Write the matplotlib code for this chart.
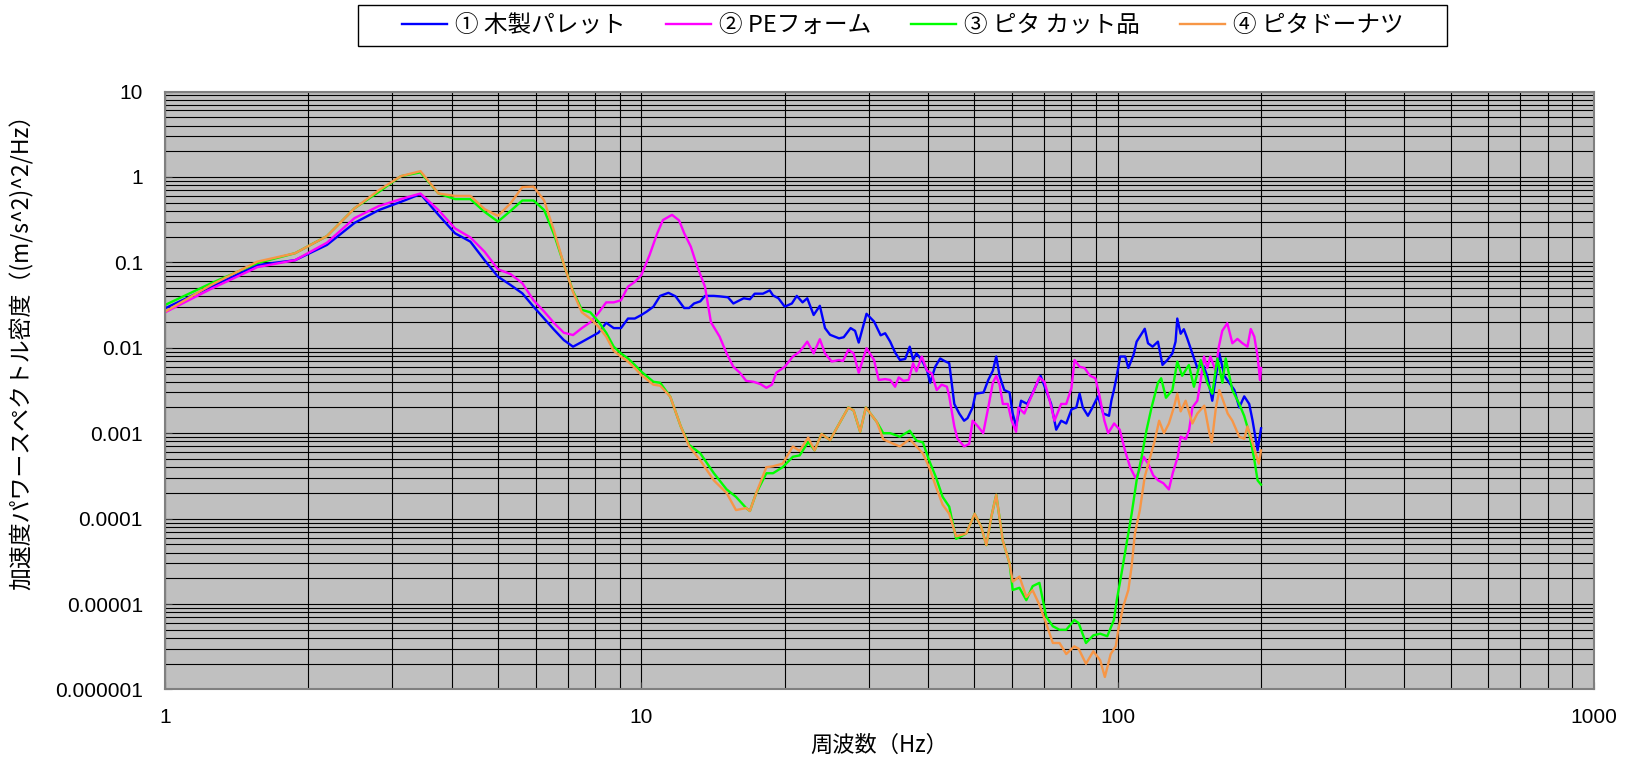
import numpy as np
import matplotlib
matplotlib.use('Agg')
import matplotlib.pyplot as plt
from matplotlib.patches import Rectangle
from matplotlib.ticker import FixedLocator, FixedFormatter, LogLocator, NullFormatter

plt.rcParams['font.family'] = ['Noto Sans CJK JP', 'DejaVu Sans']

# ---- PSD data: frequency (Hz) / acceleration PSD ((m/s^2)^2/Hz) ----
low_freq = [1.0, 1.25, 1.5625, 1.875, 2.1875, 2.5, 2.8125, 3.125, 3.4375, 3.75,
            4.0625, 4.375, 4.6875, 5.0, 5.3125, 5.625, 5.9375, 6.25, 6.5625, 6.875,
            7.1875, 7.5, 7.8125, 8.125, 8.4375, 8.75, 9.0625, 9.375, 9.6875, 10.0]

wood_freq = low_freq + [
    10.27, 10.6, 10.95, 11.4, 11.8, 12.3, 12.6, 12.9, 13.3, 13.6, 14.2, 14.6, 15.2,
    15.6, 16.4, 16.9, 17.3, 18.0, 18.6, 18.9, 19.4, 20.0, 20.7, 21.2, 21.8, 22.3,
    23.0, 23.7, 24.3, 24.9, 26.0, 26.6, 27.5, 28.1, 28.6, 29.7, 30.8, 31.8, 32.5,
    33.3, 34.1, 34.9, 35.8, 36.6, 37.2, 37.8, 38.8, 39.8, 40.4, 41.4, 42.4, 43.3,
    44.3, 45.4, 46.5, 47.6, 48.4, 49.6, 50.3, 52.3, 53.5, 54.7, 55.6, 56.5, 57.8,
    59.3, 60.2, 61.2, 62.7, 64.6, 66.2, 67.8, 68.9, 70.7, 72.5, 74.3, 76.1, 78.0,
    80.0, 81.9, 83.2, 84.5, 86.6, 88.1, 90.9, 93.3, 95.9, 97.0, 98.2, 99.6, 101.2,
    103.7, 105.3, 108.0, 109.6, 112.3, 114.0, 115.8, 118.4, 121.5, 124.2, 127.2,
    130.3, 132.3, 133.4, 135.6, 137.7, 139.9, 143.5, 147.0, 150.6, 154.2, 158.0,
    163.5, 167.5, 171.5, 175.8, 180.0, 184.4, 188.9, 192.0, 196.7, 200.0]
wood_psd = [
    0.029, 0.052, 0.093, 0.106, 0.16, 0.29, 0.41, 0.51, 0.63, 0.36,
    0.219, 0.175, 0.106, 0.068, 0.0544, 0.0434, 0.0303, 0.022, 0.0162, 0.0123,
    0.0103, 0.0117, 0.0133, 0.015, 0.0196, 0.017, 0.017, 0.022, 0.022, 0.0242,
    0.0266, 0.0303, 0.0405, 0.044, 0.040, 0.0292, 0.0292, 0.033, 0.035, 0.0405,
    0.0405, 0.040, 0.039, 0.033, 0.038, 0.037, 0.043, 0.043, 0.047, 0.041, 0.038,
    0.0303, 0.033, 0.0405, 0.034, 0.038, 0.0242, 0.031, 0.017, 0.0142, 0.0129,
    0.0133, 0.017, 0.0158, 0.0115, 0.025, 0.0203, 0.014, 0.0148, 0.0118, 0.0088,
    0.0072, 0.0074, 0.0103, 0.0072, 0.0086, 0.0072, 0.0054, 0.0039, 0.006, 0.0075,
    0.007, 0.0066, 0.0022, 0.0017, 0.0014, 0.0015, 0.002, 0.0029, 0.003, 0.0042,
    0.0054, 0.0079, 0.0047, 0.0032, 0.003, 0.0017, 0.00122, 0.0024, 0.0022, 0.0029,
    0.0039, 0.0047, 0.0032, 0.0022, 0.0011, 0.0014, 0.0013, 0.0019, 0.002, 0.0029,
    0.002, 0.0016, 0.0019, 0.0027, 0.0017, 0.0016, 0.0024, 0.0032, 0.0047, 0.0079,
    0.0079, 0.0058, 0.0083, 0.0118, 0.0146, 0.0167, 0.0113, 0.0103, 0.0118, 0.0063,
    0.0072, 0.0086, 0.0118, 0.022, 0.0146, 0.0165, 0.013, 0.0086, 0.0058, 0.0066,
    0.0047, 0.0024, 0.0086, 0.0047, 0.0039, 0.0032, 0.002, 0.0027, 0.0022, 0.0014,
    0.00063, 0.00114]

pe_freq = low_freq + [
    10.4, 10.8, 11.1, 11.6, 12.0, 12.3, 12.7, 13.1, 13.6, 14.0, 14.6, 15.1, 15.6,
    16.1, 16.6, 17.2, 17.8, 18.3, 18.8, 19.2, 20.0, 20.8, 21.5, 22.3, 23.0, 23.7,
    24.3, 25.1, 26.0, 26.5, 27.2, 27.9, 28.6, 29.7, 30.8, 31.5, 32.5, 33.3, 34.1,
    34.7, 35.5, 36.4, 37.2, 37.8, 38.8, 39.8, 40.7, 41.7, 42.7, 43.8, 44.3, 45.4,
    46.1, 47.6, 48.8, 49.6, 50.9, 52.2, 53.5, 54.7, 55.6, 56.5, 57.4, 58.8, 59.9,
    61.2, 61.9, 63.7, 65.3, 66.8, 68.4, 70.2, 72.0, 73.7, 76.1, 78.0, 80.0, 81.2,
    83.2, 85.2, 87.5, 89.8, 91.4, 93.8, 95.5, 98.3, 101.0, 103.6, 106.2, 109.0,
    110.7, 113.4, 116.1, 118.8, 121.7, 124.7, 128.1, 130.5, 133.7, 135.6, 139.0,
    141.3, 143.5, 147.0, 149.4, 151.8, 154.2, 156.6, 160.5, 163.1, 165.8, 169.9,
    174.1, 178.4, 182.8, 187.3, 190.3, 193.6, 196.7, 199.0, 200.0]
pe_psd = [
    0.026, 0.049, 0.088, 0.106, 0.17, 0.33, 0.457, 0.55, 0.64, 0.41,
    0.25, 0.196, 0.133, 0.083, 0.073, 0.057, 0.036, 0.0266, 0.0194, 0.015,
    0.0141, 0.017, 0.0199, 0.0255, 0.034, 0.034, 0.036, 0.052, 0.059, 0.071,
    0.121, 0.219, 0.313, 0.36, 0.31, 0.22, 0.153, 0.0895, 0.052, 0.0199, 0.0135,
    0.0086, 0.006, 0.0051, 0.0041, 0.004, 0.00375, 0.0034, 0.0037, 0.0051, 0.006,
    0.0079, 0.009, 0.0118, 0.0086, 0.0126, 0.0086, 0.0069, 0.0072, 0.007, 0.0095,
    0.0086, 0.0051, 0.0099, 0.0072, 0.0042, 0.0043, 0.0042, 0.0035, 0.0045, 0.0041,
    0.0042, 0.0066, 0.0053, 0.0079, 0.0054, 0.005, 0.0032, 0.0037, 0.0035, 0.0027,
    0.0012, 0.00086, 0.0007, 0.00075, 0.0014, 0.0012, 0.001, 0.002, 0.0039, 0.0047,
    0.0037, 0.0022, 0.0022, 0.0014, 0.00104, 0.002, 0.0017, 0.0024, 0.0032, 0.0045,
    0.004, 0.0024, 0.0014, 0.0022, 0.0022, 0.0034, 0.0072, 0.006, 0.0058, 0.0047,
    0.0044, 0.0029, 0.0014, 0.001, 0.0013, 0.0011, 0.00063, 0.0004, 0.0003, 0.00035,
    0.00053, 0.00043, 0.00032, 0.00028, 0.00026, 0.00022, 0.00034, 0.00053, 0.00091,
    0.00085, 0.0011, 0.002, 0.0024, 0.0042, 0.0079, 0.0058, 0.0079, 0.0054, 0.0103,
    0.0158, 0.0194, 0.0113, 0.0127, 0.0113, 0.0103, 0.0166, 0.0135, 0.0079, 0.0042,
    0.0058]

cut_freq = low_freq + [
    10.6, 10.95, 11.5, 12.1, 12.6, 13.3, 14.2, 15.1, 15.8, 16.6, 16.9, 17.4, 18.3,
    18.9, 19.8, 20.8, 21.5, 22.4, 23.1, 23.9, 24.9, 25.7, 27.2, 27.9, 28.8, 29.6,
    31.2, 32.2, 33.3, 34.9, 36.6, 37.8, 39.0, 40.2, 41.5, 42.9, 44.3, 45.8, 48.1,
    50.1, 51.7, 53.0, 54.3, 55.6, 57.4, 59.3, 60.2, 62.2, 64.3, 66.3, 68.5, 70.8,
    73.1, 75.5, 78.0, 81.1, 82.8, 85.8, 88.9, 91.9, 95.1, 98.2, 99.6, 101.9, 104.4,
    107.0, 109.6, 112.3, 115.0, 117.8, 121.5, 123.4, 126.3, 130.3, 133.4, 136.6,
    141.1, 144.6, 149.4, 154.2, 158.0, 161.9, 165.9, 168.6, 174.1, 180.0, 184.4,
    188.9, 193.6, 196.7, 200.0]
cut_psd = [
    0.0317, 0.057, 0.098, 0.128, 0.203, 0.43, 0.67, 1.02, 1.13, 0.64,
    0.55, 0.55, 0.39, 0.30, 0.40, 0.53, 0.53, 0.41, 0.21, 0.095,
    0.046, 0.0278, 0.026, 0.0203, 0.015, 0.0103, 0.0086, 0.0075, 0.0063, 0.00525,
    0.004, 0.0039, 0.00268, 0.0012, 0.00073, 0.00058, 0.00034, 0.00022, 0.00018,
    0.000133, 0.000123, 0.000195, 0.00034, 0.00034, 0.0004, 0.00053, 0.00055,
    0.00079, 0.00063, 0.00098, 0.00083, 0.00114, 0.002, 0.00185, 0.00104, 0.002,
    0.00136, 0.001, 0.001, 0.00091, 0.00107, 0.00082, 0.00078, 0.00048, 0.00031,
    0.00018, 0.000138, 0.000058, 0.000067, 0.000114, 0.00008, 0.000049, 0.000105,
    0.00019, 0.000055, 0.00003, 0.0000146, 0.0000155, 0.0000111, 0.0000162,
    0.0000177, 0.0000071, 0.0000055, 0.000005, 0.000005, 0.0000065, 0.000006,
    0.0000035, 0.0000043, 0.0000045, 0.0000042, 0.0000065, 0.0000112, 0.0000229,
    0.000051, 0.000114, 0.00028, 0.00053, 0.00109, 0.002, 0.0039, 0.0044, 0.0026,
    0.0032, 0.0069, 0.0047, 0.0063, 0.0035, 0.0072, 0.0039, 0.0029, 0.0075, 0.0039,
    0.0075, 0.0032, 0.0022, 0.00159, 0.001, 0.00049, 0.00028, 0.00025]

donut_freq = low_freq + [
    10.6, 10.95, 11.5, 12.1, 12.6, 13.3, 14.2, 15.1, 15.8, 16.6, 16.9, 17.4, 18.3,
    18.9, 19.8, 20.8, 21.5, 22.4, 23.1, 23.9, 24.9, 25.7, 27.2, 27.9, 28.8, 29.6,
    31.2, 32.2, 33.3, 34.9, 36.6, 37.8, 39.0, 40.2, 41.5, 42.9, 44.3, 45.8, 48.1,
    50.1, 51.7, 53.0, 54.3, 55.6, 57.4, 59.3, 60.2, 62.2, 64.3, 66.3, 68.5, 70.8,
    73.1, 75.5, 78.0, 81.1, 82.8, 85.8, 88.9, 91.9, 94.0, 96.7, 99.1, 100.3, 102.7,
    105.3, 107.0, 108.7, 111.3, 114.0, 116.6, 119.4, 122.2, 125.1, 128.1, 131.2,
    133.4, 135.6, 138.9, 143.5, 147.0, 152.0, 155.8, 157.6, 160.8, 163.5, 167.5,
    170.2, 174.1, 180.0, 184.4, 187.3, 190.3, 194.8, 197.8, 200.0]
donut_psd = [
    0.0265, 0.0544, 0.102, 0.128, 0.203, 0.43, 0.70, 1.02, 1.17, 0.64,
    0.60, 0.60, 0.42, 0.35, 0.49, 0.76, 0.77, 0.53, 0.23, 0.095,
    0.045, 0.026, 0.022, 0.0177, 0.0135, 0.0092, 0.0079, 0.0069, 0.0058, 0.0048,
    0.0037, 0.0036, 0.00268, 0.0012, 0.0007, 0.00048, 0.00028, 0.0002, 0.000126,
    0.000133, 0.000123, 0.000195, 0.0004, 0.00041, 0.00044, 0.0007, 0.00062,
    0.00089, 0.00063, 0.00098, 0.00083, 0.00114, 0.002, 0.00185, 0.00104, 0.002,
    0.00136, 0.00085, 0.00078, 0.0007, 0.00085, 0.0007, 0.00058, 0.0004, 0.00024,
    0.000146, 0.000114, 0.000062, 0.000067, 0.000114, 0.00008, 0.000049, 0.000105,
    0.00019, 0.000055, 0.00003, 0.0000183, 0.000021, 0.0000121, 0.0000145,
    0.0000098, 0.0000059, 0.0000035, 0.0000035, 0.0000026, 0.0000032, 0.000003,
    0.000002, 0.0000028, 0.0000022, 0.0000014, 0.0000026, 0.0000032, 0.000005,
    0.0000093, 0.0000146, 0.0000277, 0.000067, 0.000125, 0.00031, 0.00049, 0.00078,
    0.0014, 0.001, 0.0013, 0.002, 0.0029, 0.0018, 0.0024, 0.0013, 0.0017, 0.0021,
    0.001, 0.00078, 0.002, 0.0032, 0.0022, 0.0017, 0.0014, 0.00091, 0.00086, 0.0012,
    0.00091, 0.00058, 0.00044, 0.00063]

series_labels = ['① 木製パレット', '② PEフォーム', '③ ピタ カット品', '④ ピタドーナツ']
series_colors = ['#0000FF', '#FF00FF', '#00FF00', '#F79646']

x_ticks = [1, 10, 100, 1000]
x_tick_labels = ['1', '10', '100', '1000']
y_ticks = [1e-6, 1e-5, 1e-4, 1e-3, 1e-2, 1e-1, 1, 10]
y_tick_labels = ['0.000001', '0.00001', '0.0001', '0.001', '0.01', '0.1', '1', '10']

fig = plt.figure(figsize=(16.34, 7.57), dpi=100)
fig.patch.set_facecolor('white')
ax = fig.add_axes([0.1010, 0.0892, 0.8745, 0.7899])
ax.set_facecolor('#C0C0C0')
ax.set_xscale('log')
ax.set_yscale('log')
ax.set_xlim(1, 1000)
ax.set_ylim(1e-6, 10)

# dense black grid on every decade subdivision
ax.xaxis.set_major_locator(FixedLocator(x_ticks))
ax.xaxis.set_major_formatter(FixedFormatter(x_tick_labels))
ax.yaxis.set_major_locator(FixedLocator(y_ticks))
ax.yaxis.set_major_formatter(FixedFormatter(y_tick_labels))
ax.xaxis.set_minor_locator(LogLocator(base=10, subs=np.arange(2, 10), numticks=50))
ax.yaxis.set_minor_locator(LogLocator(base=10, subs=np.arange(2, 10), numticks=50))
ax.xaxis.set_minor_formatter(NullFormatter())
ax.yaxis.set_minor_formatter(NullFormatter())
ax.grid(True, which='both', color='black', linewidth=0.8)
ax.set_axisbelow(True)

ax.tick_params(which='major', direction='in', length=5, color='#404040',
               labelsize=15, labelcolor='black')
ax.tick_params(which='minor', length=0)
ax.tick_params(axis='y', pad=16)
ax.tick_params(axis='x', pad=13)
for lab in ax.get_xticklabels() + ax.get_yticklabels():
    lab.set_family(['Liberation Sans', 'DejaVu Sans'])
for spine in ax.spines.values():
    spine.set_edgecolor('#808080')
    spine.set_linewidth(1.5)

all_freq = [wood_freq, pe_freq, cut_freq, donut_freq]
all_psd = [wood_psd, pe_psd, cut_psd, donut_psd]
handles = []
for f, p, lab, col in zip(all_freq, all_psd, series_labels, series_colors):
    h, = ax.plot(f, p, color=col, linewidth=1.7, label=lab)
    handles.append(h)

# legend box drawn separately so its width can be set independently of padding
fig.patches.append(Rectangle((0.2191, 0.9392), 0.6665, 0.0542, transform=fig.transFigure,
                             facecolor='white', edgecolor='black', linewidth=1.0))
leg = fig.legend(handles=handles, loc='center', bbox_to_anchor=(0.5526, 0.9663),
                 ncol=4, fontsize=17, frameon=False, handlelength=1.9,
                 handletextpad=0.35, columnspacing=1.7)

fig.text(0.0135, 0.542, '加速度パワースペクトル密度（(m/s^2)^2/Hz）', rotation=90,
         ha='center', va='center', fontsize=16.5)
fig.text(0.5382, 0.0158, '周波数（Hz）', ha='center', va='center', fontsize=16)

fig.savefig('out.png', dpi=100)
